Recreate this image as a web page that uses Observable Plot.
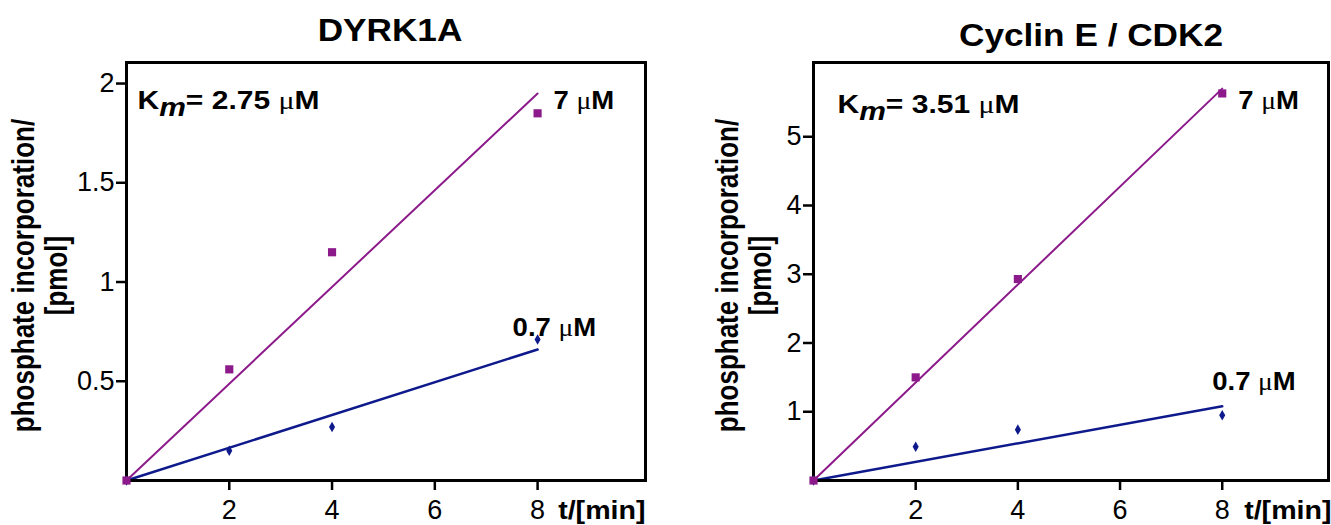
<!DOCTYPE html>
<html>
<head>
<meta charset="utf-8">
<script src="https://cdn.jsdelivr.net/npm/d3@7"></script>
<script src="https://cdn.jsdelivr.net/npm/@observablehq/plot@0.6"></script>
<style>
  html, body { margin: 0; padding: 0; background: #fff; }
  #wrap { position: relative; width: 1331px; height: 525px; overflow: hidden; background: #fff; }
  #wrap svg { position: absolute; top: 0; }
</style>
</head>
<body>
<div id="wrap"></div>
<script>
// ---- data ----
const times = [0, 2, 4, 8];
const fitTimes = [0, 8];
const dyrkHigh = [0, 0.56, 1.15, 1.85];
const dyrkLow = [0, 0.15, 0.27, 0.71];
const dyrkFitHigh = [0, 1.95];
const dyrkFitLow = [0, 0.66];
const cdkHigh = [0, 1.5, 2.93, 5.63];
const cdkLow = [0, 0.49, 0.74, 0.95];
const cdkFitHigh = [0, 5.7];
const cdkFitLow = [0, 1.08];
const xTicks = [2, 4, 6, 8];
const dyrkYTicks = [0.5, 1, 1.5, 2];
const cdkYTicks = [1, 2, 3, 4, 5];
const titles = ["DYRK1A", "Cyclin E / CDK2"];
const kmLabels = ["Km= 2.75 μM", "Km= 3.51 μM"];
const concLabels = ["7 μM", "0.7 μM"];
const yLabel = "phosphate incorporation/\n[pmol]";
const xLabel = "t/[min]";

const PURPLE = "#8c1a8a";
const NAVY = "#0e1a8c";
const FONT = "'Liberation Sans', Arial, Helvetica, sans-serif";

function makePanel(cfg) {
  const pts = (vals) => times.map((t, i) => ({t, v: vals[i]}));
  const fit = (vals) => fitTimes.map((t, i) => ({t, v: vals[i]}));
  const fmt = (d) => String(d);
  return Plot.plot({
    width: cfg.width,
    height: 525,
    marginLeft: cfg.marginLeft,
    marginRight: cfg.marginRight,
    marginTop: 62,
    marginBottom: 45,
    style: {fontFamily: FONT, fontSize: "27px", background: "white", overflow: "visible", color: "black"},
    x: {domain: cfg.xDomain},
    y: {domain: cfg.yDomain},
    marks: [
      Plot.axisX({ticks: xTicks, tickFormat: fmt, tickSize: 10, tickPadding: 9, strokeWidth: 2.5, label: null, fontSize: 27}),
      Plot.axisY({ticks: cfg.yTicks, tickFormat: fmt, tickSize: 10, tickPadding: 2, strokeWidth: 2.5, label: null, fontSize: 27}),
      Plot.line(fit(cfg.fitHigh), {x: "t", y: "v", stroke: PURPLE, strokeWidth: 2}),
      Plot.line(fit(cfg.fitLow), {x: "t", y: "v", stroke: NAVY, strokeWidth: 2.5}),
      Plot.frame({strokeWidth: 3, stroke: "black"}),
      Plot.dot(pts(cfg.low), {x: "t", y: "v", symbol: "diamond", fill: NAVY, r: 3.2}),
      Plot.dot(pts(cfg.high), {x: "t", y: "v", symbol: "square", fill: PURPLE, r: 4.6}),
      Plot.text([cfg.title], {frameAnchor: "top", dx: cfg.titleDx, dy: cfg.titleDy, lineAnchor: "bottom", fontSize: 32, fontWeight: "bold", fill: "black"}),
      Plot.text([cfg.km], {frameAnchor: "top-left", dx: cfg.kmDx, dy: cfg.kmDy, lineAnchor: "bottom", textAnchor: "start", fontSize: 25, fontWeight: "bold", fill: "black"}),
      Plot.text([{t: fitTimes[1], v: cfg.fitHigh[1], s: concLabels[0]}], {x: "t", y: "v", text: "s", dx: cfg.hiDx, dy: cfg.hiDy, lineAnchor: "bottom", textAnchor: "start", fontSize: 25, fontWeight: "bold", fill: "black"}),
      Plot.text([{t: fitTimes[1], v: cfg.fitLow[1], s: concLabels[1]}], {x: "t", y: "v", text: "s", dx: cfg.loDx, dy: cfg.loDy, lineAnchor: "bottom", textAnchor: "start", fontSize: 25, fontWeight: "bold", fill: "black"}),
      Plot.text([yLabel], {frameAnchor: "left", rotate: -90, dx: cfg.yLabDx, dy: 4, lineAnchor: "middle", textAnchor: "middle", lineHeight: 1.08, fontSize: 26, fontWeight: "bold", fill: "black"}),
      Plot.text([xLabel], {frameAnchor: "bottom-right", dx: cfg.xLabDx, dy: 38, lineAnchor: "bottom", textAnchor: "end", fontSize: 26, fontWeight: "bold", fill: "black"})
    ]
  });
}

function richText(svg) {
  d3.select(svg).selectAll("text").each(function () {
    const node = d3.select(this);
    if (this.querySelector("tspan")) return;
    const s = node.text();
    if (!s.includes("μ")) return;
    const k = s.indexOf("μ");
    node.attr("data-label", s);
    node.text(null);
    if (s.startsWith("Km")) {
      node.append("tspan").text("K");
      node.append("tspan").attr("font-style", "italic").attr("dy", "0.28em").text("m");
      node.append("tspan").attr("dy", "-0.28em").text(s.slice(2, k));
    } else {
      node.append("tspan").text(s.slice(0, k));
    }
    node.append("tspan").attr("font-weight", "normal").attr("font-family", "'Liberation Serif', 'DejaVu Serif', serif").text("μ");
    node.append("tspan").text(s.slice(k + 1));
  });
}

// horizontal stretch per kind of label, to match the reference's glyph proportions
function stretchFor(s) {
  if (/^[\d.]+$/.test(s)) return 1.0;
  if (titles.includes(s)) return 1.1;
  if (s === xLabel) return 1.1;
  if (s.startsWith("Km")) return 1.2;
  if (concLabels.includes(s)) return 1.1;
  return 1.18;
}

function stretchText(svg) {
  d3.select(svg).selectAll("text").each(function () {
    const node = d3.select(this);
    const s = node.attr("data-label") || node.text();
    const k = stretchFor(s);
    if (k === 1) return;
    let t = node.attr("transform");
    if (!t) {
      const x = +node.attr("x") || 0, y = +node.attr("y") || 0;
      t = `translate(${x},${y})`;
      node.attr("x", null).attr("y", null);
    }
    if (t.includes("rotate")) t = t.replace("rotate", `scale(${k},1) rotate`);
    else t = t + ` scale(${k},1)`;
    node.attr("transform", t);
  });
}

const wrap = document.getElementById("wrap");

const left = makePanel({
  width: 665, marginLeft: 126, marginRight: 20,
  xDomain: [0, 10.1], yDomain: [0, 2.106], yTicks: dyrkYTicks,
  high: dyrkHigh, low: dyrkLow, fitHigh: dyrkFitHigh, fitLow: dyrkFitLow,
  title: titles[0], titleDx: 4, titleDy: -22,
  km: kmLabels[0], kmDx: 11, kmDy: 46,
  hiDx: 16, hiDy: 16, loDx: -25, loDy: -14,
  yLabDx: -87, xLabDx: 0
});
const right = makePanel({
  width: 666, marginLeft: 148, marginRight: 3,
  xDomain: [0, 10.08], yDomain: [0, 6.08], yTicks: cdkYTicks,
  high: cdkHigh, low: cdkLow, fitHigh: cdkFitHigh, fitLow: cdkFitLow,
  title: titles[1], titleDx: 20, titleDy: -17,
  km: kmLabels[1], kmDx: 24, kmDy: 50,
  hiDx: 16, hiDy: 20, loDx: -10, loDy: -16,
  yLabDx: -70, xLabDx: 3
});
[left, right].forEach((svg, i) => {
  richText(svg);
  stretchText(svg);
  svg.style.left = i === 0 ? "0px" : "665px";
  wrap.appendChild(svg);
});
</script>
</body>
</html>
